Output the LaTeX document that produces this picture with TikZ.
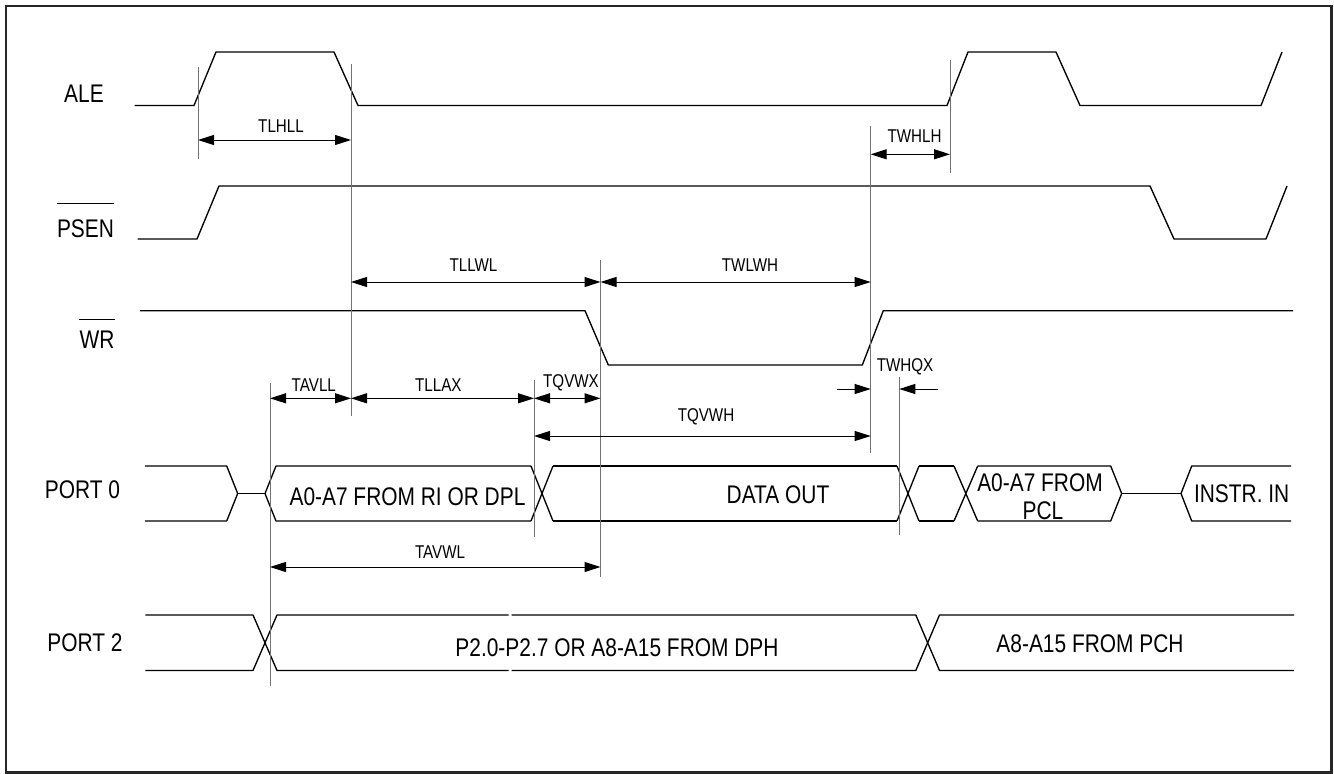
\documentclass[tikz,border=0pt]{standalone}
\usepackage{fontspec}
\setmainfont{Liberation Sans}[FakeStretch=0.82]
\usetikzlibrary{arrows.meta}
\begin{document}
\begin{tikzpicture}[x=1pt,y=-1pt,
  sig/.style={line width=1.35pt, black, line join=round},
  refl/.style={line width=0.9pt, black!55},
  dimarr/.style={line width=1pt, black, {Triangle[length=16pt,width=10pt]}-{Triangle[length=16pt,width=10pt]}},
  onearr/.style={line width=1pt, black, -{Triangle[length=16pt,width=10pt]}},
  lbl/.style={font=\fontsize{25.5}{27}\selectfont, inner sep=0pt},
  tlbl/.style={font=\fontsize{18.5}{20}\selectfont, inner sep=0pt}]
\useasboundingbox (0,0) rectangle (1334,774);
\draw[line width=2.5pt, black!85] (6,6) rectangle (1331.5,772.5);

% signal names
\node[lbl] (ale) at (84,94) {ALE};
\node[lbl] (psen) at (85.5,228.3) {PSEN};
\node[lbl] (wr) at (97,340) {WR};
\node[lbl] (p0) at (82.5,490) {PORT 0};
\node[lbl] (p2) at (85,643) {PORT 2};
\draw[line width=1.2pt] ([yshift=15.5pt]psen.north west) -- ([yshift=15.5pt]psen.north east);
\draw[line width=1.2pt] ([yshift=11.5pt]wr.north west) -- ([yshift=11.5pt]wr.north east);

% ALE
\draw[sig] (134.6,105.5) -- (194,105.5) -- (216,52) -- (334,52) -- (358,105.5) -- (947,105.5) -- (968,52) -- (1056,52) -- (1080,105.5) -- (1261,105.5) -- (1282,52);
% PSEN
\draw[sig] (137.6,239) -- (197,239) -- (219,186) -- (1150,186) -- (1174,239) -- (1266,239) -- (1287,186);
% WR
\draw[sig] (140,310.7) -- (585,310.7) -- (608.3,365) -- (862.3,365) -- (883.3,310.7) -- (1293,310.7);

% PORT 0
\draw[sig] (145,466) -- (226.7,466) -- (237.7,493.5) -- (226.7,521) -- (145,521);
\draw[sig] (237.7,493.5) -- (265,493.5);
\draw[sig] (531,466) -- (276,466) -- (265,493.5) -- (276,521) -- (531,521);
\draw[sig] (531,466) -- (553,521) (531,521) -- (553,466);
\draw[sig] (553,466) -- (897,466) (553,521) -- (897,521);
\draw[sig] (897,466) -- (919,521) (897,521) -- (919,466);
\draw[sig] (919,466) -- (954,466) (919,521) -- (954,521);
\draw[sig] (954,466) -- (977.7,521) (954,521) -- (977.7,466);
\draw[sig] (977.7,466) -- (1110.7,466) -- (1121.7,493.5) -- (1110.7,521) -- (977.7,521);
\draw[sig] (1121.7,493.5) -- (1181,493.5);
\draw[sig] (1291,466) -- (1191.7,466) -- (1181,493.5) -- (1191.7,521) -- (1291,521);

% PORT 2
\draw[sig] (145.3,615) -- (253,615) -- (277,670.5) -- (508.5,670.5);
\draw[sig] (145.3,670.5) -- (253,670.5) -- (277,615) -- (508.5,615);
\draw[sig] (511.5,615) -- (915.8,615) -- (939.5,670.5) -- (1294,670.5);
\draw[sig] (511.5,670.5) -- (915.8,670.5) -- (939.5,615) -- (1294,615);

% data labels
\node[lbl] (dpl) at (407.5,497) {A0-A7 FROM RI OR DPL};
\node[lbl] (dout) at (778,495) {DATA OUT};
\node[lbl] (pcl1) at (1040,482.5) {A0-A7 FROM};
\node[lbl] (pcl2) at (1043,511) {PCL};
\node[lbl] (instr) at (1241.7,494) {INSTR. IN};
\node[lbl] (dph) at (617,647.5) {P2.0-P2.7 OR A8-A15 FROM DPH};
\node[lbl] (pch) at (1090,643.3) {A8-A15 FROM PCH};

% reference lines
\draw[refl] (198,67) -- (198,159);
\draw[refl] (351,64) -- (351,416);
\draw[refl] (600.5,260) -- (600.5,577);
\draw[refl] (534,380) -- (534,537);
\draw[refl] (270,383) -- (270,686);
\draw[refl] (870.7,126) -- (870.7,453);
\draw[refl] (899.3,377) -- (899.3,535);
\draw[refl] (950,60) -- (950,173);

% dimension arrows
\coordinate (tlhllL) at (198,140);   \coordinate (tlhllR) at (351,140);
\coordinate (tllwlL) at (351,282);   \coordinate (tllwlR) at (600.5,282);
\coordinate (twlwhR) at (870.7,282);
\coordinate (twhlhL) at (870.7,154.3); \coordinate (twhlhR) at (950,154.3);
\coordinate (tavllL) at (270,398.3); \coordinate (tavllR) at (351,398.3);
\coordinate (tllaxR) at (534,398.3); \coordinate (tqvwxR) at (600.5,398.3);
\coordinate (tqvwhL) at (534,436);   \coordinate (tqvwhR) at (870.7,436);
\coordinate (twhqxA) at (836.7,389); \coordinate (twhqxB) at (870.7,389);
\coordinate (twhqxC) at (938,389);   \coordinate (twhqxD) at (899.3,389);
\coordinate (tavwlL) at (270,567);   \coordinate (tavwlR) at (600.5,567);

\draw[dimarr] (tlhllL) -- (tlhllR);
\draw[dimarr] (tllwlL) -- (tllwlR);
\draw[dimarr] (tllwlR) -- (twlwhR);
\draw[dimarr] (twhlhL) -- (twhlhR);
\draw[dimarr] (tavllL) -- (tavllR);
\draw[dimarr] (tavllR) -- (tllaxR);
\draw[dimarr] (tllaxR) -- (tqvwxR);
\draw[dimarr] (tqvwhL) -- (tqvwhR);
\draw[onearr] (twhqxA) -- (twhqxB);
\draw[onearr] (twhqxC) -- (twhqxD);
\draw[dimarr] (tavwlL) -- (tavwlR);

\node[tlbl] (ttlhll) at (281,126) {TLHLL};
\node[tlbl] (ttllwl) at (473.5,265) {TLLWL};
\node[tlbl] (ttwlwh) at (750,265) {TWLWH};
\node[tlbl] (ttwhlh) at (914.5,136) {TWHLH};
\node[tlbl] (ttavll) at (313.8,385) {TAVLL};
\node[tlbl] (ttllax) at (438.3,385) {TLLAX};
\node[tlbl] (ttqvwx) at (571,383) {TQVWX};
\node[tlbl] (ttqvwh) at (706,416.7) {TQVWH};
\node[tlbl] (ttwhqx) at (905,366.7) {TWHQX};
\node[tlbl] (ttavwl) at (440,551.7) {TAVWL};
\end{tikzpicture}
\end{document}
